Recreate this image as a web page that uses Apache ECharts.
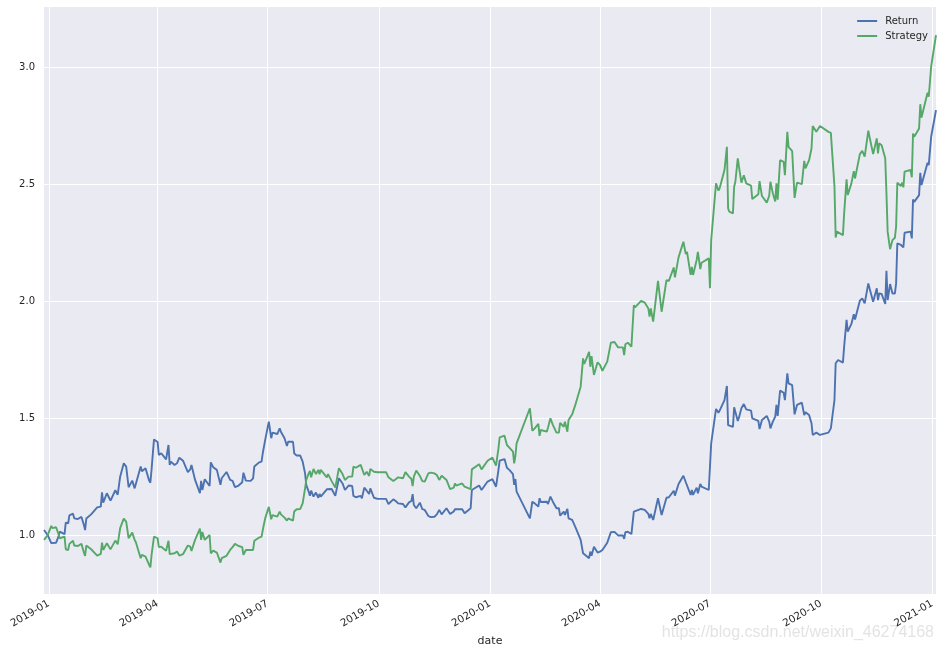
<!DOCTYPE html>
<html style="height: 100%">
<head>
<meta charset="utf-8">
</head>
<body style="height: 100%; margin: 0; background: #fff">
<div id="container" style="height: 100%"></div>
<script type="text/javascript" src="https://cdn.jsdelivr.net/npm/echarts@6/dist/echarts.min.js"></script>
<script type="text/javascript">
var dates = [
    '2018-12-28','2018-12-31','2019-01-03','2019-01-04','2019-01-07','2019-01-09','2019-01-10','2019-01-11','2019-01-14','2019-01-15',
    '2019-01-17','2019-01-18','2019-01-21','2019-01-22','2019-01-25','2019-01-28','2019-01-30','2019-01-31','2019-02-01','2019-02-05',
    '2019-02-10','2019-02-13','2019-02-14','2019-02-15','2019-02-18','2019-02-21','2019-02-22','2019-02-25','2019-02-27','2019-03-01',
    '2019-03-04','2019-03-06','2019-03-08','2019-03-11','2019-03-13','2019-03-14','2019-03-18','2019-03-19','2019-03-22','2019-03-25',
    '2019-03-26','2019-03-27','2019-03-29','2019-04-01','2019-04-02','2019-04-04','2019-04-08','2019-04-10','2019-04-11','2019-04-12',
    '2019-04-15','2019-04-17','2019-04-19','2019-04-22','2019-04-23','2019-04-26','2019-04-28','2019-04-29','2019-05-02','2019-05-06',
    '2019-05-07','2019-05-08','2019-05-10','2019-05-14','2019-05-15','2019-05-17','2019-05-20','2019-05-23','2019-05-24','2019-05-28',
    '2019-05-31','2019-06-02','2019-06-04','2019-06-07','2019-06-10','2019-06-11','2019-06-13','2019-06-17','2019-06-19','2019-06-20',
    '2019-06-24','2019-06-26','2019-06-27','2019-06-29','2019-07-02','2019-07-04','2019-07-05','2019-07-09','2019-07-10','2019-07-11',
    '2019-07-12','2019-07-15','2019-07-17','2019-07-18','2019-07-22','2019-07-23','2019-07-25','2019-07-28','2019-07-30','2019-08-01',
    '2019-08-02','2019-08-04','2019-08-05','2019-08-06','2019-08-08','2019-08-10','2019-08-12','2019-08-13','2019-08-14','2019-08-19',
    '2019-08-20','2019-08-23','2019-08-26','2019-08-29','2019-09-01','2019-09-03','2019-09-06','2019-09-09','2019-09-10','2019-09-12',
    '2019-09-16','2019-09-17','2019-09-19','2019-09-21','2019-09-23','2019-09-24','2019-09-27','2019-09-30','2019-10-07','2019-10-09',
    '2019-10-13','2019-10-15','2019-10-16','2019-10-17','2019-10-21','2019-10-23','2019-10-26','2019-10-28','2019-10-29','2019-10-30',
    '2019-11-01','2019-11-04','2019-11-06','2019-11-08','2019-11-11','2019-11-13','2019-11-16','2019-11-18','2019-11-20','2019-11-22',
    '2019-11-26','2019-11-29','2019-12-02','2019-12-03','2019-12-04','2019-12-09','2019-12-11','2019-12-16','2019-12-17','2019-12-23',
    '2019-12-25','2019-12-30','2019-12-31','2020-01-03','2020-01-06','2020-01-08','2020-01-09','2020-01-13','2020-01-15','2020-01-17',
    '2020-01-20','2020-01-21','2020-01-22','2020-01-23','2020-02-03','2020-02-05','2020-02-07','2020-02-10','2020-02-11','2020-02-12',
    '2020-02-17','2020-02-18','2020-02-20','2020-02-22','2020-02-25','2020-02-27','2020-02-28','2020-03-02','2020-03-03','2020-03-05',
    '2020-03-06','2020-03-09','2020-03-10','2020-03-12','2020-03-16','2020-03-18','2020-03-19','2020-03-23','2020-03-24','2020-03-25',
    '2020-03-27','2020-03-30','2020-04-01','2020-04-03','2020-04-07','2020-04-08','2020-04-10','2020-04-13','2020-04-16','2020-04-20',
    '2020-04-21','2020-04-22','2020-04-24','2020-04-27','2020-04-29','2020-04-30','2020-05-05','2020-05-08','2020-05-11','2020-05-12',
    '2020-05-13','2020-05-15','2020-05-19','2020-05-22','2020-05-26','2020-05-28','2020-06-01','2020-06-02','2020-06-03','2020-06-05',
    '2020-06-09','2020-06-10','2020-06-11','2020-06-12','2020-06-15','2020-06-16','2020-06-17','2020-06-20','2020-06-21','2020-06-23',
    '2020-06-24','2020-06-30','2020-07-01','2020-07-02','2020-07-06','2020-07-08','2020-07-09','2020-07-13','2020-07-14','2020-07-15',
    '2020-07-16','2020-07-17','2020-07-20','2020-07-21','2020-07-22','2020-07-24','2020-07-25','2020-07-27','2020-07-29','2020-07-31',
    '2020-08-04','2020-08-05','2020-08-10','2020-08-11','2020-08-13','2020-08-17','2020-08-19','2020-08-20','2020-08-22','2020-08-24',
    '2020-08-25','2020-08-26','2020-08-27','2020-08-28','2020-08-31','2020-09-01','2020-09-03','2020-09-04','2020-09-07','2020-09-09',
    '2020-09-11','2020-09-15','2020-09-17','2020-09-18','2020-09-21','2020-09-23','2020-09-24','2020-09-27','2020-09-30','2020-10-07',
    '2020-10-09','2020-10-12','2020-10-13','2020-10-14','2020-10-15','2020-10-19','2020-10-20','2020-10-21','2020-10-22','2020-10-23',
    '2020-10-26','2020-10-28','2020-10-29','2020-10-30','2020-11-02','2020-11-04','2020-11-06','2020-11-09','2020-11-10','2020-11-11',
    '2020-11-13','2020-11-16','2020-11-17','2020-11-18','2020-11-20','2020-11-23','2020-11-24','2020-11-25','2020-11-27','2020-11-29',
    '2020-12-01','2020-12-02','2020-12-03','2020-12-06','2020-12-07','2020-12-08','2020-12-09','2020-12-14','2020-12-15','2020-12-16',
    '2020-12-17','2020-12-21','2020-12-22','2020-12-23','2020-12-24','2020-12-28','2020-12-29','2020-12-31','2021-01-04'
];
var returnValues = [
    1.023,1.002,0.967,0.974,0.969,0.995,1.016,1.012,1.006,1.055,
    1.052,1.086,1.093,1.073,1.070,1.079,1.045,1.023,1.072,1.090,
    1.120,1.123,1.184,1.140,1.180,1.149,1.159,1.193,1.174,1.251,
    1.308,1.294,1.206,1.234,1.201,1.194,1.294,1.274,1.287,1.234,
    1.225,1.282,1.410,1.399,1.344,1.351,1.325,1.386,1.301,1.315,
    1.301,1.308,1.332,1.319,1.315,1.270,1.282,1.301,1.237,1.180,
    1.233,1.194,1.240,1.211,1.312,1.291,1.280,1.216,1.244,1.271,
    1.237,1.233,1.206,1.213,1.227,1.268,1.234,1.233,1.244,1.294,
    1.312,1.315,1.351,1.408,1.486,1.415,1.439,1.433,1.433,1.457,
    1.443,1.415,1.382,1.400,1.400,1.351,1.341,1.341,1.315,1.265,
    1.215,1.187,1.169,1.191,1.166,1.183,1.161,1.177,1.166,1.197,
    1.191,1.198,1.169,1.244,1.222,1.194,1.213,1.211,1.169,1.163,
    1.169,1.159,1.204,1.191,1.177,1.201,1.161,1.156,1.156,1.134,
    1.154,1.147,1.151,1.137,1.134,1.120,1.141,1.147,1.176,1.130,
    1.116,1.140,1.112,1.109,1.083,1.078,1.080,1.090,1.109,1.090,
    1.116,1.092,1.102,1.112,1.106,1.112,1.095,1.116,1.194,1.213,
    1.194,1.230,1.233,1.240,1.208,1.280,1.319,1.326,1.289,1.280,
    1.262,1.216,1.241,1.187,1.073,1.144,1.137,1.123,1.159,1.143,
    1.144,1.134,1.166,1.144,1.116,1.116,1.085,1.102,1.088,1.113,
    1.073,1.066,1.063,1.031,0.981,0.924,0.931,0.903,0.931,0.913,
    0.952,0.927,0.931,0.938,0.969,0.969,1.014,1.015,1.000,1.000,
    0.985,1.014,1.016,1.006,1.102,1.097,1.113,1.109,1.092,1.073,
    1.092,1.066,1.159,1.087,1.161,1.163,1.191,1.170,1.166,1.220,
    1.255,1.251,1.227,1.230,1.173,1.194,1.173,1.204,1.180,1.220,
    1.208,1.194,1.198,1.393,1.540,1.524,1.533,1.578,1.581,1.638,
    1.471,1.467,1.463,1.547,1.550,1.489,1.504,1.543,1.561,1.538,
    1.533,1.500,1.489,1.454,1.493,1.510,1.486,1.457,1.486,1.507,
    1.557,1.510,1.510,1.618,1.609,1.578,1.692,1.649,1.642,1.517,
    1.557,1.567,1.514,1.526,1.514,1.479,1.429,1.439,1.429,1.439,
    1.457,1.578,1.735,1.742,1.749,1.738,1.806,1.809,1.920,1.870,
    1.903,1.944,1.922,1.920,2.002,2.012,1.991,2.076,2.055,2.062,
    1.998,2.055,2.005,2.033,2.031,1.988,2.130,2.005,2.073,2.033,
    2.033,2.076,2.247,2.240,2.244,2.230,2.292,2.297,2.268,2.434,
    2.424,2.453,2.548,2.496,2.500,2.591,2.581,2.702,2.816
];
var strategyValues = [
    0.981,1.000,1.041,1.031,1.035,1.006,0.988,0.988,0.995,0.941,
    0.938,0.964,0.977,0.957,0.955,0.964,0.927,0.913,0.957,0.941,
    0.914,0.921,0.969,0.938,0.967,0.941,0.950,0.978,0.962,1.031,
    1.072,1.059,0.988,1.012,0.981,0.971,0.903,0.917,0.910,0.874,
    0.864,0.917,0.995,0.988,0.950,0.952,0.934,0.977,0.920,0.927,
    0.924,0.931,0.914,0.920,0.924,0.957,0.952,0.934,0.981,1.029,
    0.981,1.015,0.981,1.002,0.924,0.935,0.927,0.884,0.903,0.913,
    0.938,0.950,0.964,0.955,0.950,0.917,0.938,0.938,0.938,0.977,
    0.991,0.995,1.023,1.073,1.122,1.069,1.087,1.080,1.087,1.102,
    1.090,1.076,1.063,1.073,1.063,1.102,1.112,1.113,1.137,1.201,
    1.237,1.265,1.275,1.248,1.284,1.262,1.280,1.261,1.280,1.248,
    1.262,1.232,1.204,1.287,1.262,1.237,1.251,1.251,1.294,1.289,
    1.301,1.294,1.258,1.272,1.254,1.284,1.272,1.270,1.270,1.248,
    1.232,1.240,1.232,1.248,1.244,1.270,1.251,1.241,1.211,1.251,
    1.277,1.254,1.232,1.230,1.265,1.268,1.265,1.258,1.237,1.255,
    1.237,1.198,1.204,1.222,1.213,1.222,1.208,1.198,1.282,1.304,
    1.282,1.319,1.322,1.332,1.298,1.372,1.419,1.426,1.386,1.375,
    1.358,1.308,1.339,1.393,1.543,1.447,1.457,1.476,1.425,1.450,
    1.443,1.461,1.500,1.472,1.439,1.439,1.481,1.464,1.486,1.443,
    1.493,1.517,1.510,1.564,1.635,1.756,1.732,1.784,1.720,1.766,
    1.685,1.739,1.728,1.703,1.742,1.739,1.823,1.826,1.803,1.803,
    1.770,1.816,1.823,1.806,1.983,1.974,2.001,1.994,1.969,1.934,
    1.969,1.913,2.087,1.955,2.090,2.087,2.144,2.102,2.095,2.187,
    2.254,2.254,2.201,2.211,2.112,2.147,2.112,2.176,2.211,2.137,
    2.164,2.183,2.055,2.261,2.503,2.472,2.482,2.560,2.560,2.659,
    2.396,2.382,2.375,2.489,2.510,2.610,2.574,2.506,2.538,2.503,
    2.493,2.436,2.457,2.513,2.449,2.421,2.450,2.510,2.461,2.426,
    2.503,2.433,2.426,2.602,2.595,2.538,2.723,2.659,2.641,2.441,
    2.506,2.500,2.599,2.567,2.602,2.652,2.748,2.723,2.748,2.723,
    2.719,2.489,2.272,2.297,2.301,2.282,2.375,2.378,2.520,2.453,
    2.503,2.555,2.524,2.524,2.628,2.642,2.617,2.728,2.702,2.699,
    2.628,2.695,2.631,2.674,2.666,2.610,2.461,2.297,2.222,2.261,
    2.271,2.318,2.506,2.492,2.506,2.486,2.553,2.560,2.529,2.716,
    2.702,2.737,2.841,2.784,2.784,2.890,2.873,3.001,3.136
];
var xTicks = ['2019-01-01','2019-04-01','2019-07-01','2019-10-01','2020-01-01','2020-04-01','2020-07-01','2020-10-01','2021-01-01'];
var yTicks = [1.0, 1.5, 2.0, 2.5, 3.0];

// x is a plain value axis in ms: time axes break on customValues
function toMs(d) {
    return Date.UTC(+d.slice(0, 4), +d.slice(5, 7) - 1, +d.slice(8, 10));
}
function pairs(values) {
    return values.map(function (v, i) { return [toMs(dates[i]), v]; });
}
function monthLabel(ms) {
    var d = new Date(ms);
    var m = d.getUTCMonth() + 1;
    return d.getUTCFullYear() + '-' + (m < 10 ? '0' + m : m);
}
var xTickTimes = xTicks.map(toMs);

var myChart = echarts.init(document.getElementById('container'));
var textColor = '#262626';
var font = '"DejaVu Sans", sans-serif';
var option = {
    animation: false,
    backgroundColor: '#fff',
    grid: { left: 44, right: 7, top: 7, bottom: 58, show: true, backgroundColor: '#EAEAF2', borderWidth: 0 },
    legend: {
        orient: 'vertical', right: 10, top: 11, itemWidth: 20, itemHeight: 2, itemGap: 5,
        textStyle: { color: textColor, fontFamily: font, fontSize: 10, padding: [0, 0, 0, 3] },
        data: ['Return', 'Strategy']
    },
    xAxis: {
        type: 'value',
        min: toMs('2018-12-28'),
        max: toMs('2021-01-04'),
        name: 'date',
        nameLocation: 'middle',
        nameGap: 38,
        nameTextStyle: { color: textColor, fontFamily: font, fontSize: 11 },
        axisLine: { show: false },
        axisTick: { show: false, customValues: xTickTimes },
        axisLabel: {
            customValues: xTickTimes,
            rotate: 30,
            color: textColor,
            fontFamily: font,
            fontSize: 10.3,
            margin: 9,
            hideOverlap: false,
            formatter: monthLabel
        },
        splitLine: { show: true, lineStyle: { color: '#fff', width: 1 } }
    },
    yAxis: {
        type: 'value',
        min: 0.75,
        max: 3.256,
        axisLine: { show: false },
        axisTick: { show: false, customValues: yTicks },
        axisLabel: {
            customValues: yTicks,
            color: textColor,
            fontFamily: font,
            fontSize: 10,
            margin: 9,
            formatter: function (v) { return v.toFixed(1); }
        },
        splitLine: { show: true, lineStyle: { color: '#fff', width: 1 } }
    },
    series: [
        { name: 'Return', type: 'line', symbol: 'none', data: pairs(returnValues), lineStyle: { color: '#4C72B0', width: 1.9 }, itemStyle: { color: '#4C72B0' } },
        { name: 'Strategy', type: 'line', symbol: 'none', data: pairs(strategyValues), lineStyle: { color: '#55A868', width: 1.9 }, itemStyle: { color: '#55A868' } }
    ],
    graphic: [{
        type: 'text', right: 9, top: 625, silent: true,
        style: { text: 'https://blog.csdn.net/weixin_46274168', fill: 'rgba(200,200,200,0.5)', font: '16px "Liberation Sans", sans-serif' }
    }]
};
myChart.setOption(option);
</script>
</body>
</html>
